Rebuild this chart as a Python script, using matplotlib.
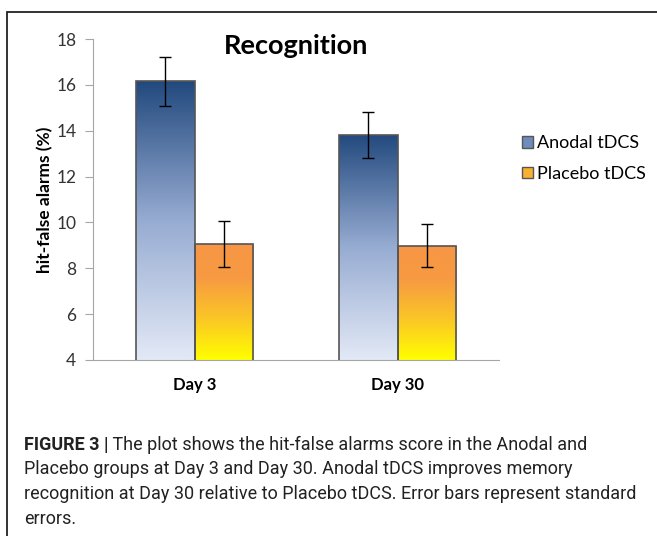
import numpy as np
import matplotlib
matplotlib.use("Agg")
import matplotlib.pyplot as plt
from matplotlib.colors import LinearSegmentedColormap
from matplotlib.patches import Rectangle, Patch

# data
days = ["Day 3", "Day 30"]
groups = ["Anodal tDCS", "Placebo tDCS"]
anodal = [16.15, 13.82]
anodal_se = [1.07, 1.0]
placebo = [9.07, 8.98]
placebo_se = [1.0, 0.93]

blue_cmap = LinearSegmentedColormap.from_list(
    "blue", [(0, "#e3e9f6"), (0.5, "#97acd2"), (1, "#22497e")])
orange_cmap = LinearSegmentedColormap.from_list(
    "orange", [(0, "#ffff00"), (0.35, "#fbc725"), (0.7, "#f79a42"), (1, "#f79646")])

fig = plt.figure(figsize=(6.57, 5.36), dpi=100)
ax = fig.add_axes([93/657, 1-360/536, 406/657, 321/536])

x = np.arange(len(days))
w = 0.286
bars_a = ax.bar(x - w/2, anodal, w, color="none", edgecolor="#555555", linewidth=1.2, zorder=3)
bars_p = ax.bar(x + w/2, placebo, w, color="none", edgecolor="#555555", linewidth=1.2, zorder=3)

# gradient fill clipped to each bar
grad = np.linspace(0, 1, 256).reshape(-1, 1)
for bars, cmap in [(bars_a, blue_cmap), (bars_p, orange_cmap)]:
    for b in bars:
        x0, h, bw = b.get_x(), b.get_height(), b.get_width()
        im = ax.imshow(grad, cmap=cmap, origin="lower", aspect="auto",
                       extent=[x0, x0 + bw, 4, h], zorder=2)
        im.set_clip_path(b)
ax.set_aspect("auto")
ax.set_xlim(-0.5, 1.5)
ax.set_ylim(4, 18)

ax.errorbar(x - w/2, anodal, yerr=anodal_se, fmt="none", ecolor="black", elinewidth=1, capsize=4, capthick=1, zorder=4)
ax.errorbar(x + w/2, placebo, yerr=placebo_se, fmt="none", ecolor="black", elinewidth=1, capsize=4, capthick=1, zorder=4)

ax.spines["top"].set_visible(False)
ax.spines["right"].set_visible(False)
ax.spines["left"].set_color("#a6a6a6")
ax.spines["bottom"].set_color("#a6a6a6")
ax.set_yticks(range(4, 19, 2))
ax.set_xticks(x)
ax.set_xticklabels(days, fontsize=12, fontweight="bold", family="Lato")
ax.tick_params(axis="x", length=0, pad=12)
ax.tick_params(axis="y", colors="#a6a6a6", length=6, labelcolor="#333333", labelsize=12.5, pad=6)
for t in ax.get_yticklabels():
    t.set_family("Lato")
ax.set_ylabel("hit-false alarms (%)", fontsize=12.5, fontweight="bold", family="Lato", labelpad=2)
ax.text(0.5, 1.015, "Recognition", transform=ax.transAxes, ha="center", va="top",
        fontsize=19.5, fontweight="bold", family="Lato")

handles = [Patch(facecolor="#6f8bbd", edgecolor="#555555"),
           Patch(facecolor="#f9b030", edgecolor="#555555")]
fig.legend(handles, groups, loc="upper left", bbox_to_anchor=(506/657, 1-119/536),
           frameon=False, prop={"family": "Lato", "size": 13},
           handlelength=0.6, handleheight=0.6, handletextpad=0.2, labelspacing=0.8)

# frame of the figure panel
fig.patches.append(Rectangle((7/657, -0.2), 1.2, 1 - 12/536 + 0.2, transform=fig.transFigure,
                             fill=False, edgecolor="#222222", linewidth=1.3))

# caption
cap_font = {"family": "Roboto", "size": 13}
bold = fig.text(24/657, 1-450/536, "FIGURE 3 |", fontweight="bold", color="#222222", **cap_font)
ann = plt.Annotation(" The plot shows the hit-false alarms score in the Anodal and",
                     xy=(1, 0), xycoords=bold, va="bottom", color="#222222",
                     fontsize=13, family="Roboto")
ann.set_figure(fig)
fig.texts.append(ann)
lines = ["Placebo groups at Day 3 and Day 30. Anodal tDCS improves memory",
         "recognition at Day 30 relative to Placebo tDCS. Error bars represent standard",
         "errors."]
for i, ln in enumerate(lines):
    fig.text(24/657, 1-(450 + 24.5*(i+1))/536, ln, color="#222222", **cap_font)

fig.savefig("out.png", dpi=100)
